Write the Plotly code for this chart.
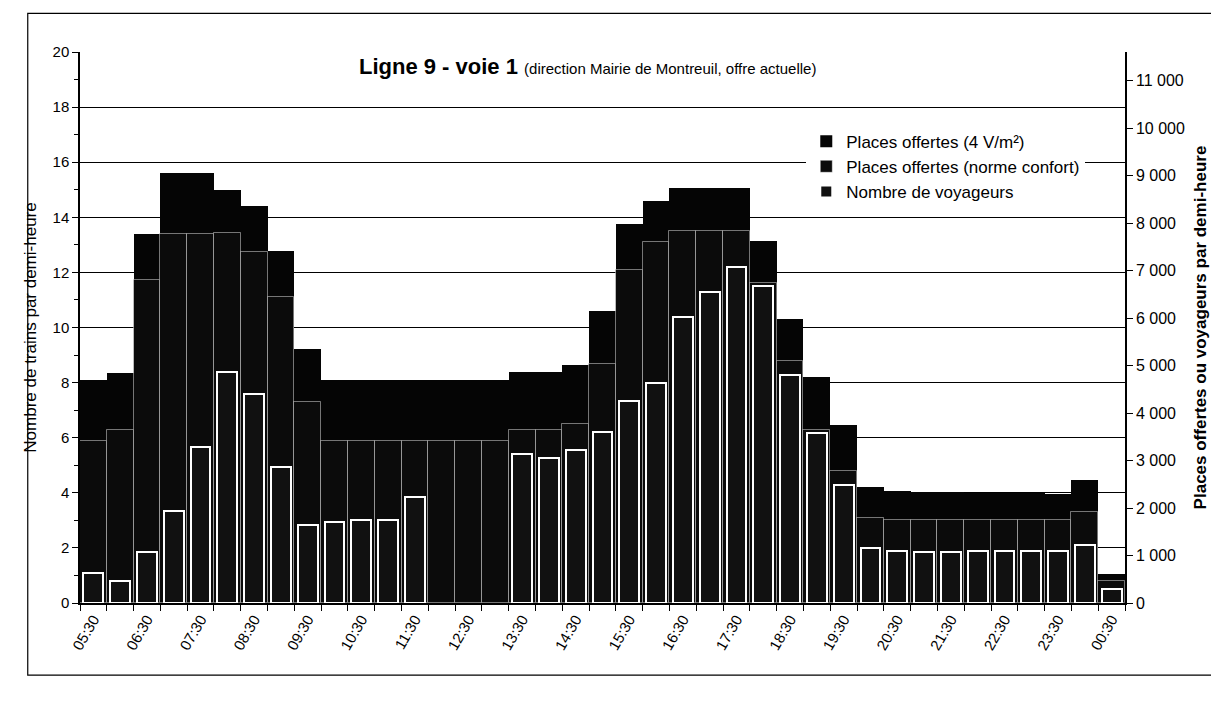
import plotly.graph_objects as go

# ---- data ----
categories = ["05:30", "06:00", "06:30", "07:00", "07:30", "08:00", "08:30", "09:00",
              "09:30", "10:00", "10:30", "11:00", "11:30", "12:00", "12:30", "13:00",
              "13:30", "14:00", "14:30", "15:00", "15:30", "16:00", "16:30", "17:00",
              "17:30", "18:00", "18:30", "19:00", "19:30", "20:00", "20:30", "21:00",
              "21:30", "22:00", "22:30", "23:00", "23:30", "00:00", "00:30"]

places_4v = [4700, 4840, 7770, 9050, 9050, 8700, 8350, 7420, 5340, 4700,
             4700, 4700, 4700, 4700, 4700, 4700, 4870, 4870, 5020, 6150,
             7980, 8470, 8730, 8730, 8730, 7630, 5970, 4760, 3740, 2440,
             2350, 2340, 2330, 2320, 2320, 2310, 2300, 2580, 610]

places_confort = [3420, 3650, 6790, 7770, 7770, 7800, 7400, 6440, 4230, 3420,
                  3420, 3420, 3420, 3420, 3420, 3420, 3650, 3650, 3770, 5030,
                  7020, 7600, 7830, 7830, 7830, 6730, 5100, 3650, 2780, 1800,
                  1740, 1740, 1740, 1740, 1740, 1740, 1740, 1910, 460]

voyageurs = [640, 460, 1070, 1940, 3280, 4870, 4410, 2870, 1650, 1710,
             1740, 1740, 2230, None, None, None, 3130, 3050, 3220, 3600,
             4260, 4640, 6030, 6550, 7080, 6670, 4810, 3570, 2490, 1160,
             1100, 1070, 1070, 1100, 1100, 1100, 1100, 1220, 290]

# left axis: number of trains per half hour (0..20), right axis: places (0..11 600)
train_ticks = [0, 2, 4, 6, 8, 10, 12, 14, 16, 18, 20]
train_minor = list(range(0, 21))
places_per_train = 580
places_max = 20 * places_per_train

x_idx = list(range(len(categories)))
tick_idx = x_idx[::2]
tick_labels = categories[::2]

FONT = "Liberation Sans, Arial, sans-serif"

fig = go.Figure()
fig.add_trace(go.Bar(
    x=x_idx, y=places_4v, name="Places offertes (4 V/m²)", yaxis="y",
    width=1.0, marker=dict(color="#050505", line=dict(width=0)),
))
fig.add_trace(go.Bar(
    x=x_idx, y=places_confort, name="Places offertes (norme confort)", yaxis="y",
    width=1.0, marker=dict(color="#0b0b0b", line=dict(width=1, color="rgba(255,255,255,0.45)")),
))
fig.add_trace(go.Bar(
    x=x_idx, y=voyageurs, name="Nombre de voyageurs", yaxis="y2",
    width=0.74, marker=dict(color="#111111", line=dict(width=2, color="white")),
))

W, H = 1211, 693
fig.update_layout(
    width=W, height=H,
    barmode="overlay", bargap=0,
    paper_bgcolor="white", plot_bgcolor="white",
    separators=", ",
    font=dict(family=FONT, color="black", size=15),
    margin=dict(l=72, r=94, t=44, b=98),
    showlegend=True,
    legend=dict(x=0.695, y=0.87, xanchor="left", yanchor="top",
                bgcolor="white", borderwidth=0, font=dict(size=17, family=FONT),
                itemwidth=30, tracegroupgap=0),
    xaxis=dict(
        range=[-0.5, len(categories) - 0.5],
        tickmode="array", tickvals=tick_idx, ticktext=tick_labels,
        tickangle=-60, ticks="outside", ticklen=0,
        tickfont=dict(size=15, family=FONT),
        showline=True, linecolor="black", linewidth=1.5,
        showgrid=False, zeroline=False,
        minor=dict(tickmode="array", tickvals=[i - 0.5 for i in range(len(categories) + 1)],
                   ticks="outside", ticklen=6, tickcolor="black", showgrid=False),
    ),
    yaxis=dict(
        range=[0, places_max],
        tickmode="array", tickvals=[t * places_per_train for t in train_ticks],
        ticktext=[str(t) for t in train_ticks],
        ticks="outside", ticklen=6, tickcolor="black",
        tickfont=dict(size=15, family=FONT),
        showline=True, linecolor="black", linewidth=1.5,
        showgrid=True, gridcolor="black", gridwidth=1.4, zeroline=False,
        minor=dict(tickmode="array", tickvals=[t * places_per_train for t in train_minor],
                   ticks="outside", ticklen=4, tickcolor="black", showgrid=False),
        title=dict(text="Nombre de trains par demi-heure", font=dict(size=17, family=FONT), standoff=12),
    ),
    yaxis2=dict(
        range=[0, places_max], tick0=0, dtick=1000, overlaying="y", side="right", anchor="x",
        tickformat=",d", ticks="outside", ticklen=6, tickcolor="black",
        tickfont=dict(size=16, family=FONT),
        showline=True, linecolor="black", linewidth=1.5,
        showgrid=False, zeroline=False,
        title=dict(text="<b>Places offertes ou voyageurs par demi-heure</b>",
                   font=dict(size=17, family=FONT), standoff=10),
    ),
    annotations=[dict(
        x=0.265, y=0.973, xref="paper", yref="paper", xanchor="left", yanchor="middle",
        showarrow=False, bgcolor="white",
        text="<b>Ligne 9 - voie 1</b> <span style='font-size:15px'>(direction Mairie de Montreuil, offre actuelle)</span>",
        font=dict(size=22, family=FONT, color="black"),
    )],
    shapes=[dict(type="rect", xref="paper", yref="paper",
                 x0=-0.05, x1=1.085, y0=-0.131, y1=1.07,
                 line=dict(color="black", width=1.2), fillcolor="rgba(0,0,0,0)")],
)

fig.write_html("out.html")
